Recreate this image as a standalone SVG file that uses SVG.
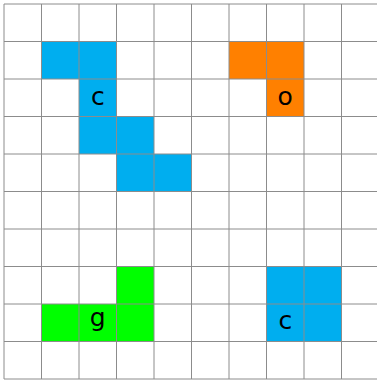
<svg xmlns="http://www.w3.org/2000/svg" width="377" height="380" viewBox="0 0 377 380">
<style>
.b{fill:#00aeef}.o{fill:#ff8000}.g{fill:#00ff00}
.grid line{stroke:#8c8c8c;stroke-width:1}
text{font-family:"DejaVu Sans",sans-serif;font-size:25px;fill:#000;text-anchor:middle}
</style>
<rect width="377" height="380" fill="#fff"/>
<g id="shape-blue-1" class="b">
<rect x="41.5" y="41.5" width="37.5" height="37.5"/>
<rect x="79" y="41.5" width="37.5" height="37.5"/>
<rect x="79" y="79" width="37.5" height="37.5"/>
<rect x="79" y="116.5" width="37.5" height="37.5"/>
<rect x="116.5" y="116.5" width="37.5" height="37.5"/>
<rect x="116.5" y="154" width="37.5" height="37.5"/>
<rect x="154" y="154" width="37.5" height="37.5"/>
</g>
<g id="shape-orange" class="o">
<rect x="229" y="41.5" width="37.5" height="37.5"/>
<rect x="266.5" y="41.5" width="37.5" height="37.5"/>
<rect x="266.5" y="79" width="37.5" height="37.5"/>
</g>
<g id="shape-green" class="g">
<rect x="116.5" y="266.5" width="37.5" height="37.5"/>
<rect x="41.5" y="304" width="37.5" height="37.5"/>
<rect x="79" y="304" width="37.5" height="37.5"/>
<rect x="116.5" y="304" width="37.5" height="37.5"/>
</g>
<g id="shape-blue-2" class="b">
<rect x="266.5" y="266.5" width="37.5" height="37.5"/>
<rect x="304" y="266.5" width="37.5" height="37.5"/>
<rect x="266.5" y="304" width="37.5" height="37.5"/>
<rect x="304" y="304" width="37.5" height="37.5"/>
</g>
<g id="connectors" class="grid">
<line x1="4" y1="4" x2="4" y2="379"/>
<line x1="41.5" y1="4" x2="41.5" y2="379"/>
<line x1="79" y1="4" x2="79" y2="379"/>
<line x1="116.5" y1="4" x2="116.5" y2="379"/>
<line x1="154" y1="4" x2="154" y2="379"/>
<line x1="191.5" y1="4" x2="191.5" y2="379"/>
<line x1="229" y1="4" x2="229" y2="379"/>
<line x1="266.5" y1="4" x2="266.5" y2="379"/>
<line x1="304" y1="4" x2="304" y2="379"/>
<line x1="341.5" y1="4" x2="341.5" y2="379"/>
<line x1="4" y1="4" x2="379" y2="4"/>
<line x1="4" y1="41.5" x2="379" y2="41.5"/>
<line x1="4" y1="79" x2="379" y2="79"/>
<line x1="4" y1="116.5" x2="379" y2="116.5"/>
<line x1="4" y1="154" x2="379" y2="154"/>
<line x1="4" y1="191.5" x2="379" y2="191.5"/>
<line x1="4" y1="229" x2="379" y2="229"/>
<line x1="4" y1="266.5" x2="379" y2="266.5"/>
<line x1="4" y1="304" x2="379" y2="304"/>
<line x1="4" y1="341.5" x2="379" y2="341.5"/>
<line x1="4" y1="379" x2="379" y2="379"/>
</g>
<g id="labels">
<text x="97.75" y="104.5">c</text>
<text x="285.25" y="104.5">o</text>
<text x="97.75" y="325.5">g</text>
<text x="285.25" y="329">c</text>
</g>
</svg>
